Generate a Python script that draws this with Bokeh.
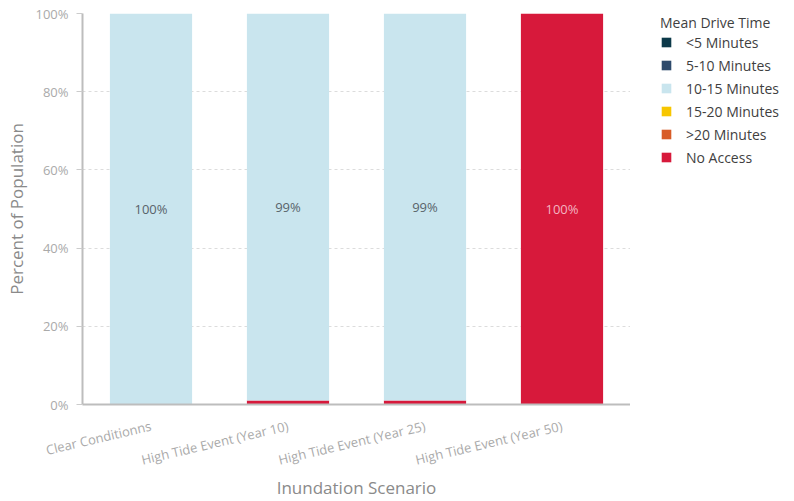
from bokeh.plotting import figure
from bokeh.layouts import row
from bokeh.models import (ColumnDataSource, FactorRange, Range1d, Legend, LegendItem,
                          LabelSet, FixedTicker, PrintfTickFormatter, Title)
from bokeh.core.properties import value
from bokeh.embed import file_html
from bokeh.resources import INLINE

# ---- data ----
scenarios = ["Clear Conditionns", "High Tide Event (Year 10)",
             "High Tide Event (Year 25)", "High Tide Event (Year 50)"]
series_names = ["<5 Minutes", "5-10 Minutes", "10-15 Minutes",
                "15-20 Minutes", ">20 Minutes", "No Access"]
lt5 = [0, 0, 0, 0]
m5_10 = [0, 0, 0, 0]
m10_15 = [100, 99, 99, 0]
m15_20 = [0, 0, 0, 0]
gt20 = [0, 0, 0, 0]
no_access = [0, 1, 1, 100]
series_colors = ["#0c3949", "#2e4a6c", "#c9e5ee", "#f7c600", "#d85c27", "#d7193b"]
label_colors = ["#ffffff", "#ffffff", "#58636a", "#58636a", "#ffffff", "#f3b4c0"]
y_ticks = [0, 20, 40, 60, 80, 100]
x_title = "Inundation Scenario"
y_title = "Percent of Population"
legend_title = "Mean Drive Time"

values = [lt5, m5_10, m10_15, m15_20, gt20, no_access]

FONT = "Open Sans"

p = figure(x_range=FactorRange(*scenarios, range_padding=0), y_range=Range1d(0, 100),
           width=630, height=501, output_backend="svg", toolbar_location=None,
           min_border_left=82, min_border_right=0, min_border_top=13, min_border_bottom=97)
p.outline_line_color = None

# stack from bottom: No Access first, then >20 ... <5 on top
stack_order = list(range(len(series_names)))[::-1]
data = {"x": scenarios}
for i, name in enumerate(series_names):
    data[name] = values[i]
src = ColumnDataSource(data)
p.vbar_stack([series_names[i] for i in stack_order], x="x", width=0.6,
             color=[series_colors[i] for i in stack_order],
             line_color=None, source=src)

# data labels (centre of each visible segment)
lx, ly, lt, lc = [], [], [], []
for j, sc in enumerate(scenarios):
    base = 0
    for i in stack_order:
        v = values[i][j]
        if v >= 5:
            lx.append(sc)
            ly.append(base + v / 2)
            lt.append(f"{v}%")
            lc.append(label_colors[i])
        base += v
lsrc = ColumnDataSource(dict(x=lx, y=ly, t=lt, c=lc))
p.add_layout(LabelSet(x="x", y="y", text="t", source=lsrc, text_color="c",
                      text_align="center", text_baseline="middle",
                      text_font=value(FONT), text_font_size=value("13px")))

# axes
p.yaxis.ticker = FixedTicker(ticks=y_ticks)
p.yaxis.formatter = PrintfTickFormatter(format="%d%%")
p.yaxis.axis_label = y_title
for ax in (p.xaxis[0], p.yaxis[0]):
    ax.axis_line_color = "#bdbdbd"
    ax.axis_line_width = 2
    ax.major_label_text_color = "#aaaaaa"
    ax.major_label_text_font = FONT
    ax.major_label_text_font_size = "13px"
    ax.axis_label_text_color = "#8a8a8a"
    ax.axis_label_text_font = FONT
    ax.axis_label_text_font_size = "17px"
    ax.axis_label_text_font_style = "normal"
    ax.minor_tick_line_color = None
p.yaxis.major_tick_line_color = "#cccccc"
p.yaxis.major_tick_in = 0
p.yaxis.major_tick_out = 6
p.yaxis.major_label_standoff = 8
p.yaxis.axis_label_standoff = 4
p.xaxis.major_tick_line_color = None
p.xaxis.major_tick_in = 0
p.xaxis.major_tick_out = 0
p.xaxis.major_label_orientation = 0.23
p.xaxis.major_label_standoff = 21
p.xaxis.major_label_text_line_height = 0.8

p.add_layout(Title(text=x_title, align="center", text_font=FONT, text_font_size="17px",
                   text_font_style="normal", text_color="#8a8a8a", standoff=-13, offset=0,
                   text_line_height=0.7),
             "below")

p.xgrid.grid_line_color = None
p.ygrid.grid_line_color = "#dcdcdc"
p.ygrid.grid_line_dash = "3 3"

# legend panel (zero-size swatch glyphs only feed the legend)
q = figure(width=164, height=501, x_range=Range1d(0, 1), y_range=Range1d(0, 1),
           output_backend="svg", toolbar_location=None,
           x_axis_location=None, y_axis_location=None,
           min_border_left=30, min_border_top=13, min_border_right=0, min_border_bottom=97)
q.outline_line_color = None
q.grid.visible = False
items = []
for name, col in zip(series_names, series_colors):
    r = q.vbar(x=[0], top=[0], bottom=[0], width=0, color=col, line_color=None)
    items.append(LegendItem(label=name, renderers=[r]))
legend = Legend(items=items, title=legend_title, location="top_left",
                margin=0, padding=5, spacing=3,
                glyph_width=12, glyph_height=12, label_height=20, label_standoff=14,
                label_text_font=FONT, label_text_font_size="14px", label_text_color="#3f3f3f",
                title_text_font=FONT, title_text_font_size="14px", title_text_color="#3f3f3f",
                title_text_font_style="normal", title_standoff=0,
                border_line_color=None, background_fill_alpha=0)
q.add_layout(legend, "center")

open("out.html", "w").write(file_html(row(p, q), INLINE))
